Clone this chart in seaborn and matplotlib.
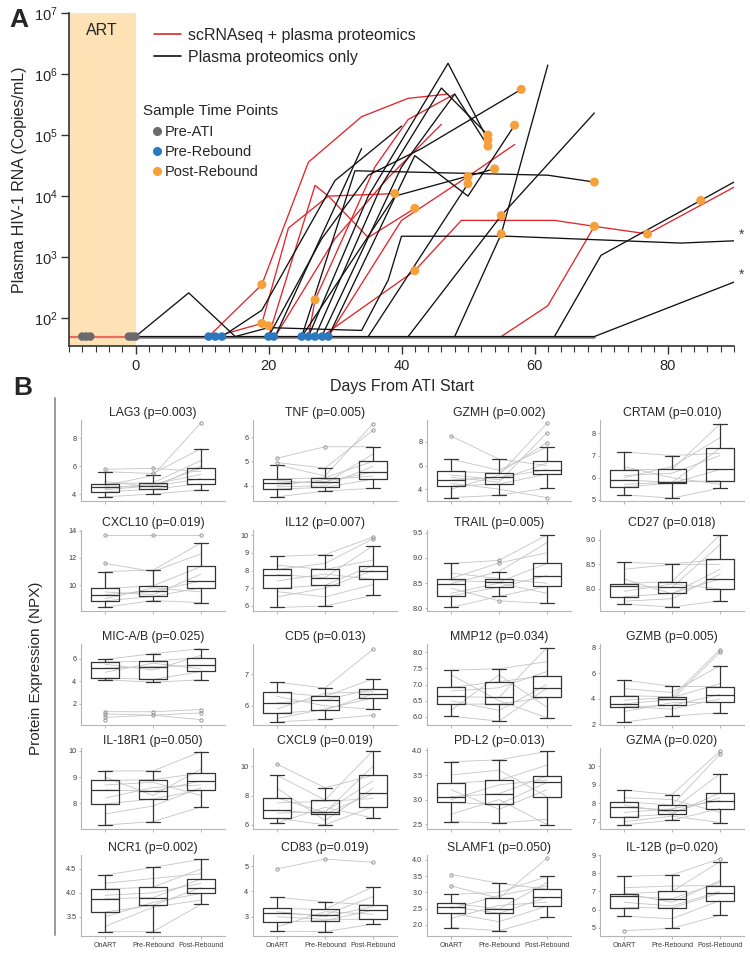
import numpy as np
import pandas as pd
import matplotlib
matplotlib.use("Agg")
import matplotlib.pyplot as plt
from matplotlib.lines import Line2D
import seaborn as sns

# ---------------- Panel A: plasma HIV-1 RNA per participant (day, copies/mL) ----------------
red_traces = [
    [(11, 50), (19, 355), (26, 3.6e4), (34, 2e5), (41, 4e5), (47, 4.7e5)],
    [(20, 50), (20.5, 75), (27, 1.5e4), (29, 1e4), (35, 2.1e3), (42, 6.3e3)],
    [(12, 50), (19, 82), (23, 3e3), (29, 1e4), (39, 1.1e4)],
    [(26, 50), (27, 200), (36, 3e4), (41, 1.8e5), (48, 4.7e5)],
    [(29, 50), (40, 4e3), (50, 2.1e4), (57, 7e4)],
    [(28, 50), (42, 600), (49, 4e3), (63, 4e3), (69, 3.2e3), (77, 2.4e3), (90, 1.4e4)],
    [(55, 50), (62, 160), (69, 3.2e3)],
    [(21, 50), (30, 2e3), (38, 2e4), (46, 1.5e5)],
]
black_traces = [
    [(0, 50), (8, 260), (15, 50), (20, 70), (34, 63), (38, 420), (40, 2.2e3), (56, 2.2e3), (82, 1.7e3), (90, 1.85e3)],
    [(0, 50), (69, 50), (90, 390)],
    [(63, 50), (70, 1.07e3), (85, 8.5e3), (90, 1.7e4)],
    [(41, 50), (55, 4.8e3), (69, 2.3e5)],
    [(48, 50), (55, 2.4e3), (62, 1.4e6)],
    [(20, 50), (28, 2e3), (35, 2.2e4), (43, 6e4), (58, 5.6e5)],
    [(25, 50), (33, 2.6e4), (62, 2.2e4), (69, 1.7e4)],
    [(26, 50), (35, 1e4), (47, 1.5e6), (53, 8.3e4)],
    [(27, 50), (37, 1.5e4), (46, 5.9e5), (53, 1e5)],
    [(28, 50), (40, 3e4), (48, 4.7e5), (53, 6.6e4)],
    [(29, 50), (42, 4.6e4), (50, 1e4), (57, 1.45e5)],
    [(21, 50), (34, 6e4)],
    [(13, 50), (19, 135), (30, 1.8e4), (40, 1.4e5)],
    [(25, 50), (39, 1e4), (54, 2.8e4)],
    [(35, 50), (50, 1.6e4)],
]
baseline_vl = 50
art_baseline_days = [-10, 0]
ati_baseline_days = [0, 69]
pre_ati_days = [-8, -7.4, -6.8, -1, -0.5, 0]
pre_rebound_days = [11, 12, 13, 20, 20.8, 25, 26, 27, 28.1, 29]
post_rebound_days = [19, 19, 20, 27, 39, 42, 42, 58, 53, 53, 53, 57, 54, 50, 50, 69, 55, 55, 69, 77, 85]
post_rebound_vl = [355, 82, 75, 200, 1.1e4, 6.3e3, 600, 5.6e5, 1e5, 8.3e4, 6.6e4, 1.45e5, 2.8e4,
                   2.1e4, 1.6e4, 1.7e4, 4.8e3, 2.4e3, 3.2e3, 2.4e3, 8.5e3]
asterisk_vl = [2.3e3, 5.2e2]

# ---------------- Panel B: plasma proteins (NPX) ----------------
proteins = ["LAG3", "TNF", "GZMH", "CRTAM",
            "CXCL10", "IL12", "TRAIL", "CD27",
            "MIC-A/B", "CD5", "MMP12", "GZMB",
            "IL-18R1", "CXCL9", "PD-L2", "GZMA",
            "NCR1", "CD83", "SLAMF1", "IL-12B"]
pvals = ["0.003", "0.005", "0.002", "0.010",
         "0.019", "0.007", "0.005", "0.018",
         "0.025", "0.013", "0.034", "0.005",
         "0.050", "0.019", "0.013", "0.020",
         "0.002", "0.019", "0.050", "0.020"]
groups = ["OnART", "Pre-Rebound", "Post-Rebound"]

# (lower whisker, q1, median, q3, upper whisker)
box_onart = [(3.8, 4.15, 4.5, 4.75, 5.6), (3.54, 3.86, 4.1, 4.27, 4.86), (3.28, 4.28, 4.77, 5.5, 6.54), (5.23, 5.59, 5.9, 6.36, 7.16),
             (8.37, 8.85, 9.3, 9.76, 11.0), (5.9, 7.0, 7.76, 8.06, 8.8), (8.02, 8.25, 8.49, 8.59, 8.89), (7.69, 7.84, 8.05, 8.11, 8.54),
             (4.13, 4.3, 5.16, 5.7, 5.94), (5.49, 5.76, 6.1, 6.43, 6.75), (6.02, 6.39, 6.63, 6.91, 7.44), (2.18, 3.35, 3.61, 4.26, 5.46),
             (7.18, 7.98, 8.51, 8.87, 9.23), (6.12, 6.46, 7.01, 7.84, 9.38), (2.55, 2.94, 3.06, 3.33, 3.77), (6.82, 7.26, 7.77, 8.08, 8.72),
             (3.19, 3.6, 3.88, 4.08, 4.37), (2.43, 2.78, 3.13, 3.33, 3.77), (1.92, 2.36, 2.56, 2.67, 2.94), (5.64, 6.11, 6.74, 6.87, 7.83)]
box_pre = [(4.0, 4.35, 4.55, 4.8, 5.33), (3.78, 3.93, 4.17, 4.33, 4.72), (3.49, 4.43, 5.0, 5.37, 6.54), (5.08, 5.75, 5.79, 6.37, 7.0),
           (8.87, 9.17, 9.55, 9.95, 11.1), (5.98, 7.16, 7.6, 8.06, 8.9), (8.24, 8.42, 8.52, 8.59, 8.73), (7.63, 7.91, 8.03, 8.15, 8.51),
           (3.92, 4.16, 5.3, 5.79, 6.44), (5.57, 5.87, 6.19, 6.3, 6.57), (5.87, 6.4, 6.6, 7.09, 7.49), (2.65, 3.48, 3.95, 4.16, 4.99),
           (7.31, 8.17, 8.46, 8.9, 9.23), (6.0, 6.74, 6.85, 7.7, 8.53), (2.52, 2.9, 3.12, 3.39, 3.81), (7.08, 7.41, 7.64, 7.9, 8.47),
           (3.19, 3.74, 3.9, 4.12, 4.53), (2.41, 2.85, 3.07, 3.29, 3.59), (1.82, 2.36, 2.49, 2.82, 3.28), (4.97, 6.09, 6.6, 7.0, 7.9)]
box_post = [(4.3, 4.73, 5.1, 5.85, 7.25), (3.89, 4.27, 4.56, 5.0, 5.6), (4.08, 5.28, 5.65, 6.37, 7.56), (5.53, 5.87, 6.37, 7.32, 8.42),
            (8.72, 9.8, 10.3, 11.37, 13.1), (6.6, 7.5, 8.0, 8.28, 9.4), (8.1, 8.44, 8.65, 8.89, 9.45), (7.76, 8.0, 8.2, 8.6, 9.1),
            (4.13, 4.87, 5.4, 6.09, 6.89), (5.89, 6.25, 6.38, 6.54, 6.86), (5.97, 6.61, 6.89, 7.27, 8.14), (2.91, 3.74, 4.34, 4.94, 6.61),
            (7.87, 8.51, 8.85, 9.15, 9.96), (6.46, 7.24, 8.16, 9.38, 11.06), (2.49, 3.06, 3.35, 3.48, 3.98), (6.95, 7.71, 8.14, 8.56, 9.6),
            (3.76, 3.99, 4.11, 4.29, 4.7), (2.71, 2.9, 3.26, 3.46, 4.19), (2.24, 2.58, 2.85, 3.1, 3.49), (5.69, 6.5, 6.92, 7.32, 8.63)]

fliers_onart = [[5.77], [5.13, 4.95], [8.5], [], [13.7, 11.6], [], [], [], [1.31, 1.11, 0.81, 0.58], [], [], [],
                [], [10.14], [], [], [], [4.89], [3.55, 3.2], [4.84]]
fliers_pre = [[5.84, 5.47], [5.6], [], [], [13.7], [], [8.95, 8.9, 8.15], [], [1.3, 1.0], [], [], [],
              [], [], [], [], [], [5.28], [], []]
fliers_post = [[9.1], [6.55, 6.28], [7.94, 8.77, 9.57, 3.28], [], [13.7], [9.9, 9.8], [], [], [1.5, 1.2, 0.6], [7.8, 5.7], [], [7.86, 7.65],
               [], [], [], [10.83, 10.66], [], [5.15], [4.05], [8.8]]

# paired participant values (OnART, Pre-Rebound, Post-Rebound)
subject_lines = [
    [(5.77, 5.84, 5.6), (5.6, 5.47, 7.25), (4.75, 4.8, 6.4), (4.5, 4.55, 5.1), (4.15, 4.35, 4.73), (3.8, 4.0, 4.3), (4.3, 4.6, 5.85), (4.6, 5.33, 9.1), (4.4, 4.7, 5.4), (4.9, 4.5, 6.0)],
    [(5.13, 5.6, 5.6), (4.95, 4.72, 6.28), (4.86, 4.4, 6.55), (4.27, 4.33, 5.0), (4.1, 4.17, 4.56), (3.86, 3.93, 4.27), (3.54, 3.78, 3.89), (4.2, 4.1, 5.3), (4.0, 4.25, 4.4), (3.95, 4.0, 4.8)],
    [(8.5, 6.54, 6.0), (6.54, 5.6, 7.56), (5.5, 5.37, 7.94), (4.77, 5.0, 5.65), (4.28, 4.43, 5.28), (3.28, 3.49, 4.08), (5.0, 4.6, 8.77), (4.0, 5.2, 9.57), (4.5, 4.0, 3.28), (5.2, 4.8, 6.2)],
    [(7.16, 7.0, 7.1), (6.36, 6.37, 8.42), (5.9, 5.79, 7.32), (5.59, 5.75, 6.37), (5.23, 5.08, 5.53), (6.1, 6.2, 7.0), (5.7, 5.8, 5.87), (6.5, 6.0, 5.7), (6.0, 6.5, 7.8)],
    [(13.7, 13.7, 13.7), (11.6, 11.0, 12.3), (11.0, 11.1, 13.1), (9.76, 9.95, 11.37), (9.3, 9.55, 10.3), (8.85, 9.17, 9.8), (8.37, 8.87, 8.72), (9.5, 9.3, 10.8), (9.0, 9.8, 9.5)],
    [(8.8, 8.9, 9.9), (8.06, 8.4, 9.8), (7.76, 7.6, 9.4), (7.0, 7.16, 8.28), (6.5, 7.0, 8.0), (5.9, 5.98, 6.6), (7.4, 7.8, 7.5), (8.3, 8.06, 8.6), (6.8, 6.5, 7.2)],
    [(8.89, 8.95, 9.45), (8.59, 8.9, 9.1), (8.49, 8.73, 9.3), (8.25, 8.42, 8.65), (8.02, 8.24, 8.44), (8.4, 8.15, 8.1), (8.55, 8.52, 8.89), (8.7, 8.59, 8.5), (8.3, 8.5, 8.3)],
    [(8.54, 8.51, 8.6), (8.11, 8.15, 9.1), (8.05, 8.03, 8.9), (7.84, 7.91, 8.2), (7.69, 7.63, 7.76), (8.4, 8.5, 8.5), (7.95, 8.1, 8.0), (7.75, 7.8, 8.3), (8.2, 7.9, 8.4)],
    [(1.31, 1.3, 1.5), (1.11, 1.0, 1.2), (0.81, 1.0, 0.6), (5.94, 6.44, 6.89), (5.7, 5.79, 6.09), (5.16, 5.3, 5.4), (4.3, 4.16, 4.87), (4.13, 3.92, 4.13), (5.5, 5.0, 6.3), (4.8, 5.6, 5.1)],
    [(6.75, 6.57, 7.8), (6.43, 6.3, 6.86), (6.1, 6.19, 6.54), (5.76, 5.87, 6.38), (5.49, 5.57, 5.7), (5.6, 5.9, 6.25), (6.3, 6.0, 5.89), (5.9, 6.4, 6.45)],
    [(7.44, 7.49, 7.7), (6.91, 7.09, 7.27), (6.63, 6.6, 8.14), (6.39, 6.4, 6.61), (6.02, 5.87, 6.89), (6.2, 7.3, 6.3), (7.3, 6.5, 5.97), (6.5, 6.2, 7.0), (6.8, 6.9, 7.4)],
    [(5.46, 4.99, 4.94), (4.26, 4.16, 7.86), (3.61, 3.95, 7.65), (3.35, 3.48, 4.34), (2.18, 2.65, 2.91), (4.8, 4.5, 6.61), (3.0, 3.7, 3.74), (3.9, 4.1, 5.2), (3.4, 3.2, 4.0)],
    [(9.23, 9.23, 9.96), (8.87, 8.9, 9.15), (8.51, 8.46, 8.85), (7.98, 8.17, 8.51), (7.18, 7.31, 7.87), (8.2, 8.6, 8.7), (9.0, 8.3, 9.3), (7.6, 7.9, 8.6), (8.7, 8.8, 8.3)],
    [(10.14, 8.53, 9.38), (9.38, 7.7, 11.06), (7.84, 6.85, 10.0), (7.01, 6.74, 8.16), (6.46, 6.0, 7.24), (6.12, 7.2, 6.46), (8.5, 6.3, 8.5), (6.8, 6.9, 9.0), (7.5, 7.6, 7.8)],
    [(3.77, 3.81, 3.98), (3.33, 3.39, 3.7), (3.06, 3.12, 3.48), (2.94, 2.9, 3.35), (2.55, 2.52, 2.6), (3.5, 3.6, 3.06), (2.7, 3.0, 2.49), (3.2, 2.8, 3.2), (3.0, 3.3, 3.4)],
    [(8.72, 8.47, 10.83), (8.08, 7.9, 10.66), (7.77, 7.64, 9.6), (7.26, 7.41, 8.56), (6.82, 7.08, 7.71), (7.5, 7.7, 8.14), (8.3, 8.2, 7.5), (7.0, 7.3, 6.95), (7.9, 7.5, 8.3)],
    [(4.37, 4.53, 4.7), (4.08, 4.12, 4.5), (3.88, 3.9, 4.29), (3.6, 3.74, 4.11), (3.19, 3.19, 3.76), (4.2, 4.3, 4.4), (3.5, 3.8, 3.99), (3.95, 4.0, 4.2), (3.3, 3.7, 3.85)],
    [(4.89, 5.28, 5.15), (3.77, 3.59, 3.46), (3.33, 3.29, 4.19), (3.13, 3.07, 3.8), (2.78, 2.85, 3.26), (2.43, 2.41, 2.71), (3.0, 2.9, 2.9), (2.6, 3.2, 3.1), (3.2, 3.0, 3.4)],
    [(3.55, 3.28, 3.1), (3.2, 2.82, 4.05), (2.94, 3.0, 3.49), (2.67, 2.49, 3.3), (2.56, 2.36, 2.85), (2.36, 2.1, 2.58), (1.92, 1.82, 2.24), (2.2, 2.6, 2.7), (2.5, 2.9, 3.2)],
    [(7.83, 7.9, 8.8), (6.87, 7.0, 8.63), (6.74, 6.6, 7.5), (6.11, 6.09, 6.92), (5.64, 5.5, 6.5), (4.84, 4.97, 5.69), (7.2, 7.3, 7.32), (6.4, 6.2, 7.0), (6.9, 6.4, 7.6)],
]

ylims = [(3.5, 9.3), (3.37, 6.7), (3.0, 9.85), (4.95, 8.6),
         (8.1, 14.05), (5.7, 10.3), (7.95, 9.55), (7.55, 9.2),
         (0.13, 7.3), (5.39, 7.97), (5.75, 8.25), (1.95, 8.3),
         (7.03, 10.1), (5.72, 11.24), (2.4, 4.05), (6.6, 11.0),
         (3.1, 4.79), (2.24, 5.44), (1.66, 4.15), (4.55, 8.95)]
yticks = [[4, 6, 8], [4, 5, 6], [4, 6, 8], [5, 6, 7, 8],
          [10, 12, 14], [6, 7, 8, 9, 10], [8.0, 8.5, 9.0, 9.5], [8.0, 8.5, 9.0],
          [2, 4, 6], [6, 7], [6.0, 6.5, 7.0, 7.5, 8.0], [2, 4, 6, 8],
          [8, 9, 10], [6, 8, 10], [2.5, 3.0, 3.5, 4.0], [7, 8, 9, 10],
          [3.5, 4.0, 4.5], [3, 4, 5], [2.0, 2.5, 3.0, 3.5, 4.0], [5, 6, 7, 8, 9]]

# ---------------- style ----------------
sns.set_style("ticks")
plt.rcParams["font.family"] = ["Liberation Sans", "DejaVu Sans"]

RED = "#e0262c"
BLACK = "#111111"
GRAY_DOT = "#6b6b6d"
BLUE_DOT = "#2a78c0"
ORANGE_DOT = "#f5a03a"

W, H = 750, 956
fig = plt.figure(figsize=(W / 100, H / 100), dpi=100)


def fig_rect(x0, y0, x1, y1):
    return [x0 / W, 1 - y1 / H, (x1 - x0) / W, (y1 - y0) / H]


# ---------------- Panel A ----------------
axA = fig.add_axes(fig_rect(69, 13, 734, 346))
axA.set_yscale("log")

rows = []
for i, tr in enumerate(red_traces):
    for d, v in tr:
        rows.append(("r%d" % i, "scRNAseq + plasma proteomics", d, v))
for i, tr in enumerate(black_traces):
    for d, v in tr:
        rows.append(("b%d" % i, "Plasma proteomics only", d, v))
vl_df = pd.DataFrame(rows, columns=["pid", "cohort", "day", "vl"])

axA.axvspan(-10, 0, color="#fce2b5", lw=0, zorder=0)
axA.text(-5, 10 ** 6.72, "ART", ha="center", va="center", fontsize=11.5)

axA.plot(art_baseline_days, [baseline_vl] * 2, color="#ee6a5e", lw=1.6, zorder=2)
axA.plot(ati_baseline_days, [baseline_vl] * 2, color="#7c7c7c", lw=1.8, zorder=2)

sns.lineplot(data=vl_df, x="day", y="vl", hue="cohort", units="pid", estimator=None, sort=False,
             palette={"scRNAseq + plasma proteomics": RED, "Plasma proteomics only": BLACK},
             lw=0.95, legend=False, ax=axA, zorder=3)

sns.scatterplot(x=pre_ati_days, y=[baseline_vl] * len(pre_ati_days), color=GRAY_DOT, s=38,
                edgecolor="none", ax=axA, zorder=5)
sns.scatterplot(x=pre_rebound_days, y=[baseline_vl] * len(pre_rebound_days), color=BLUE_DOT, s=38,
                edgecolor="none", ax=axA, zorder=5)
sns.scatterplot(x=post_rebound_days, y=post_rebound_vl, color=ORANGE_DOT, s=42,
                edgecolor="none", ax=axA, zorder=5)

for v in asterisk_vl:
    axA.text(91.2, v, "*", ha="center", va="center", fontsize=10, color="#444444", clip_on=False)

axA.set_xlim(-10, 90)
axA.set_ylim(35, 1e7)
axA.set_xticks([0, 20, 40, 60, 80])
axA.set_xticks(np.arange(-10, 91, 2), minor=True)
axA.set_yticks([1e2, 1e3, 1e4, 1e5, 1e6, 1e7])
axA.yaxis.set_minor_locator(matplotlib.ticker.NullLocator())
axA.tick_params(axis="both", labelsize=10.5, length=6, width=1, color="#333333")
axA.tick_params(axis="y", pad=2)
axA.tick_params(axis="x", which="minor", length=4, width=0.8, color="#333333")
for sp in ["top", "right"]:
    axA.spines[sp].set_visible(False)
for sp in ["left", "bottom"]:
    axA.spines[sp].set_linewidth(1.2)
    axA.spines[sp].set_color("#333333")
axA.set_xlabel("Days From ATI Start", fontsize=11.5, labelpad=4)
axA.set_ylabel("Plasma HIV-1 RNA (Copies/mL)", fontsize=11.5, labelpad=5)

leg1 = axA.legend(handles=[Line2D([], [], color=RED, lw=1.2), Line2D([], [], color=BLACK, lw=1.2)],
                  labels=["scRNAseq + plasma proteomics", "Plasma proteomics only"],
                  loc="upper left", bbox_to_anchor=(0.118, 0.975), frameon=False, fontsize=11.5,
                  handlelength=1.7, handletextpad=0.45, labelspacing=0.45, borderaxespad=0)
axA.add_artist(leg1)
axA.text(0.112, 0.705, "Sample Time Points", transform=axA.transAxes, fontsize=11,
         ha="left", va="center")
dot_handles = [Line2D([], [], ls="", marker="o", ms=5.5, color=c) for c in (GRAY_DOT, BLUE_DOT, ORANGE_DOT)]
axA.legend(handles=dot_handles, labels=["Pre-ATI", "Pre-Rebound", "Post-Rebound"],
           loc="upper left", bbox_to_anchor=(0.117, 0.68), frameon=False, fontsize=10.5,
           handlelength=0.6, handletextpad=0.25, labelspacing=0.4, borderaxespad=0)

fig.text(9 / W, 1 - 20 / H, "A", fontsize=19, fontweight="bold", va="center", ha="left")

# ---------------- Panel B ----------------
fig.text(13 / W, 1 - 388 / H, "B", fontsize=19, fontweight="bold", va="center", ha="left")
fig.add_artist(Line2D([55 / W, 55 / W], [1 - 398 / H, 1 - 935 / H], color="#9a9a9a", lw=1.4))
fig.text(36 / W, 1 - 668 / H, "Protein Expression (NPX)", rotation=90, fontsize=11,
         ha="center", va="center")

col_left = [81, 253, 427, 600]
row_top = [420, 530, 644, 748, 855]
AX_W, AX_H = 144, 81
positions = [0, 1, 2]

for k, name in enumerate(proteins):
    r, c = divmod(k, 4)
    x0, y0 = col_left[c], row_top[r]
    ax = fig.add_axes(fig_rect(x0, y0, x0 + AX_W, y0 + AX_H))

    sub = pd.DataFrame([(j, g, val) for j, trip in enumerate(subject_lines[k])
                        for g, val in zip(positions, trip)], columns=["sid", "pos", "npx"])
    sns.lineplot(data=sub, x="pos", y="npx", units="sid", estimator=None, color="#c4c4c4",
                 lw=0.6, legend=False, ax=ax, zorder=1)

    stats = []
    for b, fl in ((box_onart[k], fliers_onart[k]), (box_pre[k], fliers_pre[k]), (box_post[k], fliers_post[k])):
        lo, q1, med, q3, hi = b
        stats.append(dict(whislo=lo, q1=q1, med=med, q3=q3, whishi=hi, fliers=fl))
    lc = "#353535"
    ax.bxp(stats, positions=positions, widths=0.6, showfliers=True,
           boxprops=dict(color=lc, lw=0.9), whiskerprops=dict(color=lc, lw=0.9),
           capprops=dict(color=lc, lw=0.9), medianprops=dict(color=lc, lw=0.9),
           flierprops=dict(marker="o", ms=2.4, mfc="none", mec="#8a8a8a", mew=0.6))

    ax.set_xlim(-0.5, 2.5)
    ax.set_ylim(*ylims[k])
    ax.set_yticks(yticks[k])
    if all(float(t).is_integer() for t in yticks[k]):
        ax.set_yticklabels(["%d" % t for t in yticks[k]])
    else:
        ax.set_yticklabels(["%.1f" % t for t in yticks[k]])
    ax.set_xticks(positions)
    if r == 4:
        ax.set_xticklabels(groups)
    else:
        ax.set_xticklabels([])
    ax.set_xlabel("")
    ax.set_ylabel("")
    ax.tick_params(axis="y", labelsize=5.2, length=1.8, width=0.5, color="#999999",
                   labelcolor="#3a3a3a", pad=1.5)
    ax.tick_params(axis="x", labelsize=5.0, length=1.8, width=0.5, color="#999999",
                   labelcolor="#3a3a3a", pad=2.5)
    for sp in ["top", "right"]:
        ax.spines[sp].set_visible(False)
    for sp in ["left", "bottom"]:
        ax.spines[sp].set_color("#b5b5b5")
        ax.spines[sp].set_linewidth(0.8)
    ax.set_title("%s (p=%s)" % (name, pvals[k]), fontsize=8.8, pad=3)

fig.savefig("out.png", dpi=100)
